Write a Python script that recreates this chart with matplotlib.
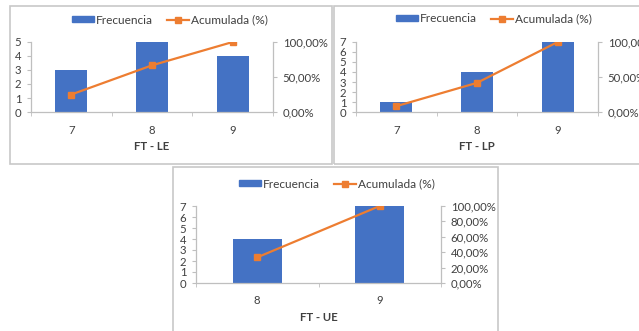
import matplotlib
matplotlib.use("Agg")
import matplotlib.pyplot as plt
from matplotlib.patches import Rectangle, Patch
from matplotlib.lines import Line2D
from matplotlib.ticker import FuncFormatter, FixedLocator

plt.rcParams['font.family'] = ['Lato', 'DejaVu Sans']

# Data
cats_le = ['7', '8', '9']
freq_le = [3, 5, 4]
cum_le = [0.25, 0.6667, 1.0]

cats_lp = ['7', '8', '9']
freq_lp = [1, 4, 7]
cum_lp = [0.0833, 0.4167, 1.0]

cats_ue = ['8', '9']
freq_ue = [4, 7]
cum_ue = [0.3333, 1.0]

titles = ['FT - LE', 'FT - LP', 'FT - UE']
legend_labels = ['Frecuencia', 'Acumulada (%)']

W, H = 639, 331
BLUE = '#4472C4'
ORANGE = '#ED7D31'
GRID = '#BFBFBF'
TXT = '#404040'
FS = 8.2
LFS = 8.6

fig = plt.figure(figsize=(W / 100, H / 100), dpi=100)
fig.patch.set_facecolor('white')


def fx(px):
    return px / W


def fy(py):
    return 1 - py / H


# panel borders
for (x0, y0, x1, y1) in [(10, 6, 332, 164), (334, 6, 650, 164), (173, 167, 498, 340)]:
    fig.patches.append(Rectangle((fx(x0), fy(y1)), fx(x1) - fx(x0), fy(y0) - fy(y1),
                                 transform=fig.transFigure, fill=False,
                                 edgecolor='#C8C8C8', linewidth=1.2, zorder=0))


def pct(v, pos):
    return ('%.2f' % (v * 100)).replace('.', ',') + '%'


def panel(rect_px, cats, freq, cum, ymax, rticks, title, legend_px):
    l, t, r, b = rect_px
    ax = fig.add_axes([fx(l), fy(b), fx(r) - fx(l), fy(t) - fy(b)])
    n = len(cats)
    xs = list(range(n))
    ax.bar(xs, freq, width=0.4, color=BLUE, zorder=2)
    ax.set_xlim(-0.5, n - 0.5)
    ax.set_ylim(0, ymax)
    ax.set_yticks(range(0, ymax + 1))
    ax.set_xticks(xs)
    ax.set_xticklabels(cats)
    ax.xaxis.set_minor_locator(FixedLocator([i - 0.5 for i in range(n + 1)]))
    ax.tick_params(axis='x', which='major', length=0, pad=9, labelsize=FS, labelcolor=TXT)
    ax.tick_params(axis='x', which='minor', length=3, color=GRID, direction='out')
    ax.tick_params(axis='y', length=3, color=GRID, labelsize=FS, labelcolor=TXT, pad=4)
    for s in ['top', 'right']:
        ax.spines[s].set_visible(False)
    for s in ['left', 'bottom']:
        ax.spines[s].set_color(GRID)
        ax.spines[s].set_linewidth(0.9)
    ax.set_xlabel(title, fontsize=FS, fontweight='bold', color=TXT, labelpad=4)

    ax2 = ax.twinx()
    ax2.plot(xs, cum, color=ORANGE, linewidth=1.6, marker='s', markersize=4.5, zorder=3)
    ax2.set_ylim(0, 1)
    ax2.set_yticks(rticks)
    ax2.yaxis.set_major_formatter(FuncFormatter(pct))
    ax2.tick_params(axis='y', length=3, color=GRID, labelsize=FS, labelcolor=TXT, pad=4)
    for s in ['top', 'left', 'bottom']:
        ax2.spines[s].set_visible(False)
    ax2.spines['right'].set_color(GRID)
    ax2.spines['right'].set_linewidth(0.9)

    handles = [Patch(facecolor=BLUE, edgecolor=BLUE),
               Line2D([0], [0], color=ORANGE, linewidth=1.6, marker='s', markersize=4.5)]
    cx, cy = legend_px
    fig.legend(handles, legend_labels, loc='center', bbox_to_anchor=(fx(cx), fy(cy)),
               ncol=2, frameon=False, fontsize=LFS, labelcolor=TXT,
               handlelength=1.85, handleheight=0.45, handletextpad=0.2, columnspacing=1.15)
    return ax


panel((31, 42, 273, 112), cats_le, freq_le, cum_le, 5, [0, 0.5, 1.0], titles[0], (170, 20))
panel((356, 42, 598, 112), cats_lp, freq_lp, cum_lp, 7, [0, 0.5, 1.0], titles[1], (494, 19))
panel((196, 206, 441, 283), cats_ue, freq_ue, cum_ue, 7, [0, 0.2, 0.4, 0.6, 0.8, 1.0], titles[2], (337, 184))

fig.savefig('out.png', dpi=100, facecolor='white')
